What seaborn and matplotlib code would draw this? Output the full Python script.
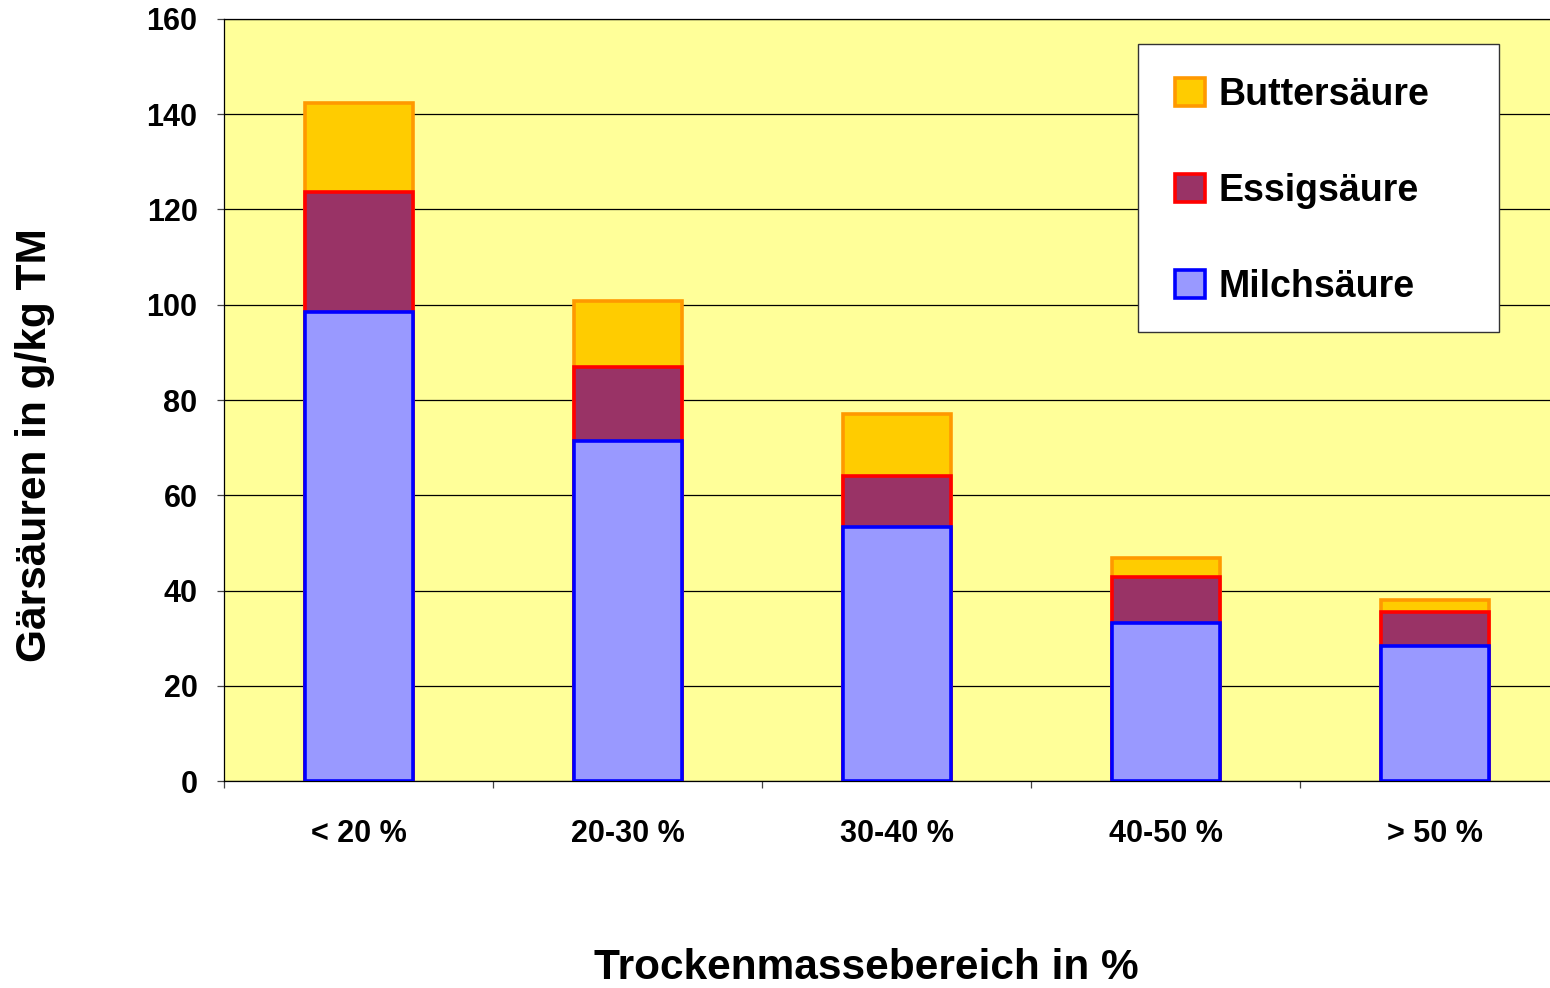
import matplotlib
matplotlib.use("Agg")
import matplotlib.pyplot as plt
import seaborn as sns
import numpy as np
import pandas as pd
from matplotlib.patches import Patch, Rectangle

categories = ["< 20 %", "20-30 %", "30-40 %", "40-50 %", "> 50 %"]
milchsaeure = [98.5, 71.4, 53.3, 33.2, 28.3]
essigsaeure = [25.2, 15.5, 10.7, 9.7, 7.1]
buttersaeure = [18.6, 13.9, 13.1, 3.9, 2.6]
yticks = [0, 20, 40, 60, 80, 100, 120, 140, 160]

sns.set_style("white")
plt.rcParams['font.family'] = ['Liberation Sans', 'DejaVu Sans']
plt.rcParams['text.color'] = 'black'
plt.rcParams['xtick.color'] = 'black'
plt.rcParams['ytick.color'] = 'black'
plt.rcParams['xtick.bottom'] = True
plt.rcParams['ytick.left'] = True

m = np.array(milchsaeure)
e = np.array(essigsaeure)
b = np.array(buttersaeure)

df = pd.DataFrame({
    "cat": categories,
    "milch": m,
    "essig": m + e,
    "butter": m + e + b,
})

W, H = 1550, 988
fig = plt.figure(figsize=(15.5, 9.88), dpi=100)
ax = fig.add_axes([224/W, 1 - 781/H, (1569-224)/W, (781-19)/H])
ax.set_facecolor("#FFFF99")

bw = 108/269
lw = 2.6
sns.barplot(data=df, x="cat", y="butter", color="#FFCC00", edgecolor="#FF9900",
            linewidth=lw, width=bw, saturation=1, ax=ax, zorder=3)
sns.barplot(data=df, x="cat", y="essig", color="#993366", edgecolor="#FF0000",
            linewidth=lw, width=bw, saturation=1, ax=ax, zorder=4)
sns.barplot(data=df, x="cat", y="milch", color="#9999FF", edgecolor="#0000FF",
            linewidth=lw, width=bw, saturation=1, ax=ax, zorder=5)

ax.set_xlim(-0.5, 4.5)
ax.set_ylim(0, 160)
ax.set_yticks(yticks)
ax.set_yticklabels([str(v) for v in yticks], fontsize=22, fontweight="bold", color="black")
ax.yaxis.grid(True, color="black", linewidth=0.9, zorder=0)
ax.set_axisbelow(True)

ax.set_xticks(range(len(categories)))
ax.set_xticklabels(categories, fontsize=22, fontweight="bold", color="black")
ax.tick_params(axis="x", which="major", length=0, pad=27)
ax.set_xticks(np.arange(-0.5, 4.6, 1.0), minor=True)
ax.tick_params(axis="x", which="minor", length=5, width=0.9, color="#444444", direction="out")
ax.tick_params(axis="y", length=5, width=0.9, color="#444444", direction="out", pad=14)

for side in ["top", "left", "bottom"]:
    ax.spines[side].set_visible(True)
    ax.spines[side].set_color("black")
    ax.spines[side].set_linewidth(0.9)
ax.spines["right"].set_visible(False)

ax.set_xlabel("")
ax.set_ylabel("")
fig.text(866/W, 1 - 968/H, "Trockenmassebereich in %", ha="center", va="center",
         fontsize=30.5, fontweight="bold", color="black")
fig.text(35/W, 1 - 445/H, "Gärsäuren in g/kg TM", ha="center", va="center",
         rotation=90, fontsize=30.5, fontweight="bold", color="black")

# legend box
fig.patches.append(Rectangle((1138/W, 1 - 332/H), (1499-1138)/W, (332-44)/H,
                             transform=fig.transFigure, facecolor="white",
                             edgecolor="#333333", linewidth=1.0, zorder=9))

handles = [
    Patch(facecolor="#FFCC00", edgecolor="#FF9900", linewidth=2.6, label="Buttersäure"),
    Patch(facecolor="#993366", edgecolor="#FF0000", linewidth=2.6, label="Essigsäure"),
    Patch(facecolor="#9999FF", edgecolor="#0000FF", linewidth=2.6, label="Milchsäure"),
]
leg = fig.legend(handles=handles, loc="upper left",
                 bbox_to_anchor=(1175/W, 1 - 77/H),
                 bbox_transform=fig.transFigure,
                 prop={"size": 27, "weight": "bold"},
                 frameon=False,
                 labelspacing=1.6, handlelength=0.8, handleheight=0.8,
                 handletextpad=0.35, borderpad=0, borderaxespad=0)
for t in leg.get_texts():
    t.set_color("black")
leg.set_zorder(10)

fig.savefig("out.png", dpi=100)
